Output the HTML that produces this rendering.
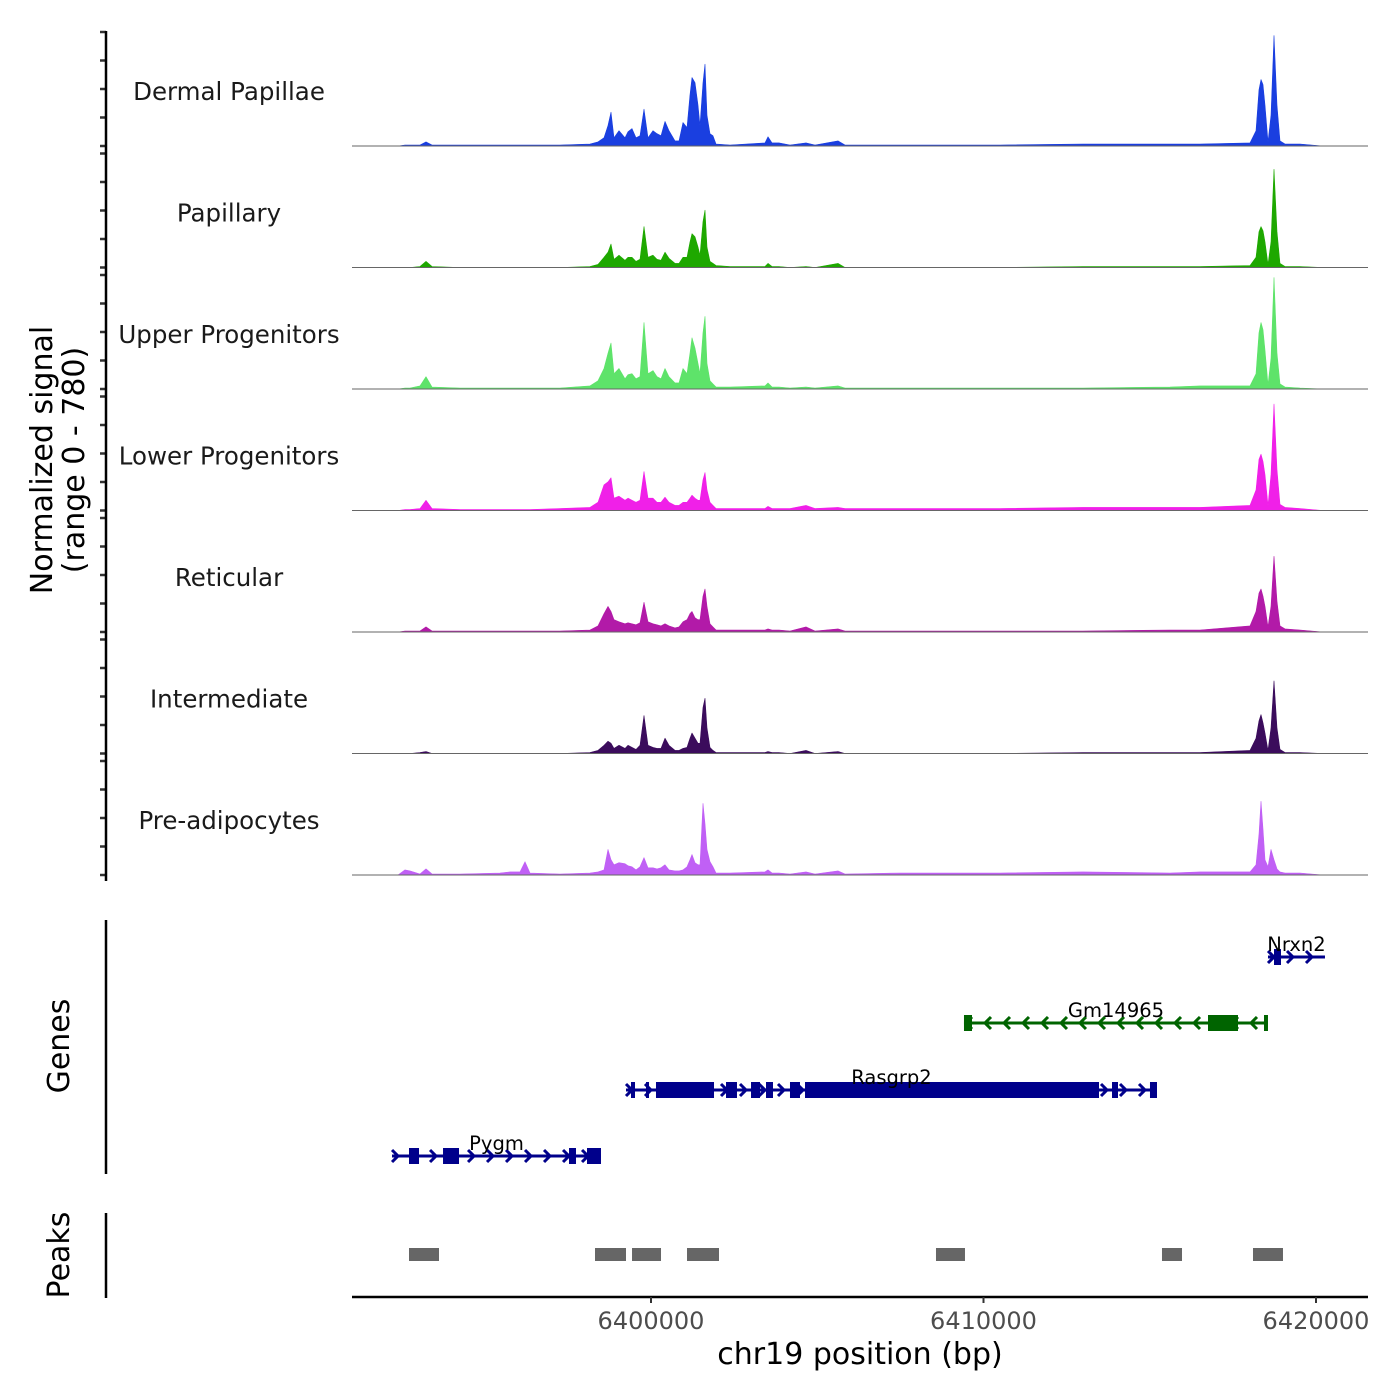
<!DOCTYPE html>
<html><head><meta charset="utf-8"><style>
html,body{margin:0;padding:0;background:#fff}
svg{display:block;font-family:"DejaVu Sans","Liberation Sans",sans-serif}
</style></head><body>
<svg id="chart" width="1400" height="1400" viewBox="0 0 1400 1400" xmlns="http://www.w3.org/2000/svg">
<rect width="1400" height="1400" fill="#fff"/>
<g id="tracks"></g>
<g id="genes"></g>
<g id="peaks"></g>
<g id="axes"></g>
<text transform="translate(52,460) rotate(-90)" text-anchor="middle" font-size="30" fill="#000">Normalized signal</text>
<text transform="translate(84,460) rotate(-90)" text-anchor="middle" font-size="30" fill="#000">(range 0 - 780)</text>
<text transform="translate(69,1046) rotate(-90)" text-anchor="middle" font-size="30" fill="#000">Genes</text>
<text transform="translate(69,1255) rotate(-90)" text-anchor="middle" font-size="30" fill="#000">Peaks</text>
<text x="860" y="1364" text-anchor="middle" font-size="30" fill="#000">chr19 position (bp)</text>
</svg>
<script>
const positions=[6392391,6392602,6392752,6393053,6393233,6393414,6394256,6395459,6395759,6396060,6396211,6396361,6397263,6398165,6398406,6398586,6398707,6398797,6398887,6399038,6399218,6399308,6399429,6399549,6399669,6399789,6399910,6400060,6400180,6400301,6400421,6400541,6400722,6400842,6400962,6401083,6401173,6401233,6401323,6401414,6401474,6401564,6401624,6401684,6401774,6401865,6401955,6402376,6403429,6403519,6403639,6403850,6404180,6404662,6404932,6405624,6405835,6407489,6410496,6412992,6415609,6416511,6418015,6418195,6418286,6418346,6418406,6418466,6418556,6418647,6418737,6418827,6418917,6419068,6419519,6420210];
const trackNames=["Dermal Papillae","Papillary","Upper Progenitors","Lower Progenitors","Reticular","Intermediate","Pre-adipocytes"];
const trackColors=["#1a3fe0","#1ea800","#5ee36a","#f020e8","#b21aa8","#3b0c5c","#c060f5"];
const dermalValues=[0,7,7,7,28,7,7,7,7,7,7,7,7,14,28,56,140,231,56,105,56,98,119,56,70,252,56,105,84,70,168,105,35,35,161,126,350,469,434,280,140,434,560,210,84,70,14,7,21,63,21,21,7,21,7,35,7,7,7,14,14,14,21,105,385,455,420,280,28,210,756,280,35,14,14,0];
const papillaryValues=[0,0,0,7,42,7,0,0,0,0,0,0,0,7,21,70,105,161,56,84,49,70,70,42,56,280,70,84,56,49,105,63,28,28,70,70,175,231,210,140,84,315,392,140,42,28,14,7,7,28,7,7,0,7,0,28,0,0,0,7,7,7,14,70,245,280,252,175,21,175,672,245,28,7,7,0];
const upperValues=[0,7,7,21,84,14,7,7,7,7,7,7,7,21,56,140,245,315,105,140,70,98,105,70,84,455,105,126,84,70,140,84,42,42,140,105,245,350,280,175,105,385,497,175,56,35,14,14,21,42,14,14,7,14,7,21,7,7,7,7,14,21,21,105,385,455,406,266,28,210,763,245,35,14,7,0];
const lowerValues=[0,7,7,14,70,14,7,7,7,7,7,7,14,21,56,175,196,224,84,98,70,84,70,56,70,266,84,84,56,56,91,56,35,35,56,56,84,105,84,70,70,210,259,140,56,35,14,14,14,28,14,14,14,35,14,21,14,14,14,21,21,21,35,140,350,385,336,245,35,245,728,280,42,21,14,0];
const reticularValues=[0,7,7,7,35,7,7,7,7,7,7,7,7,14,42,126,175,140,84,70,56,63,56,49,63,203,70,56,49,42,56,42,28,35,70,84,126,140,98,84,84,245,294,175,56,35,14,14,14,21,14,14,7,35,7,21,7,7,7,7,14,14,42,140,266,294,245,175,35,175,518,210,42,21,14,0];
const intermediateValues=[0,0,0,7,14,0,0,0,0,0,0,0,0,7,21,56,84,70,35,56,35,56,42,28,56,259,56,42,35,35,105,56,21,21,35,42,105,140,105,70,70,315,378,175,42,21,7,7,7,14,7,7,0,21,0,14,0,0,0,7,7,7,21,105,224,266,210,140,21,175,497,175,28,7,7,0];
const preadipoValues=[0,35,28,7,42,7,7,14,21,21,91,14,7,14,21,35,175,105,70,84,77,63,56,35,56,119,49,49,42,49,70,35,28,28,35,56,105,140,84,70,70,490,350,175,91,56,14,14,21,35,14,14,7,21,7,28,7,14,14,21,14,21,21,70,280,504,315,105,56,175,105,42,21,14,14,0];
const trackValues=[dermalValues,papillaryValues,upperValues,lowerValues,reticularValues,intermediateValues,preadipoValues];
const xTicks=[6400000,6410000,6420000];
const xTickLabels=["6400000","6410000","6420000"];
const yMax=780;
const geneNames=["Pygm","Rasgrp2","Gm14965","Nrxn2"];
const geneStarts=[6392211,6399248,6409413,6418556];
const geneEnds=[6398496,6415218,6418556,6420270];
const geneStrands=["+","+","-","+"];
const geneRows=[0,1,2,3];
const geneExons=[
 [[6392722,6393023],[6393745,6394226],[6397534,6397744],[6398075,6398496]],
 [[6399398,6399519],[6399850,6399940],[6400150,6401895],[6402256,6402586],[6403008,6403278],[6403459,6403669],[6404180,6404481],[6404632,6413474],[6413865,6414045],[6415007,6415218]],
 [[6409413,6409654],[6416752,6417654],[6418436,6418556]],
 [[6418737,6418947]]
];
const geneColors=["#00008b","#00008b","#006400","#00008b"];
const peakStarts=[6392722,6398316,6399429,6401083,6408571,6415368,6418105];
const peakEnds=[6393624,6399248,6400301,6402045,6409443,6415970,6419007];

const NS="http://www.w3.org/2000/svg";
function mk(tag,attrs,parent){const e=document.createElementNS(NS,tag);for(const k in attrs)e.setAttribute(k,attrs[k]);parent.appendChild(e);return e;}
function xScale(bp){return 651+(bp-6400000)*0.03325;}
const baseline0=146, trackStep=121.5, plotH=114;
function yScale(v,i){return baseline0+i*trackStep - v/yMax*plotH;}

const tg=document.getElementById('tracks');
const ax=document.getElementById('axes');
trackNames.forEach((name,i)=>{
  const b=baseline0+i*trackStep;
  const vals=trackValues[i];
  const n=Math.min(vals.length,positions.length);
  let d="M"+xScale(positions[0]).toFixed(1)+","+b;
  for(let j=0;j<n;j++)d+=" L"+xScale(positions[j]).toFixed(1)+","+yScale(vals[j],i).toFixed(1);
  d+=" L"+xScale(positions[n-1]).toFixed(1)+","+b+" Z";
  const p=mk('path',{d:d,fill:trackColors[i],stroke:trackColors[i],'stroke-width':0.6,'stroke-linejoin':'round'},tg);
  
  
  const bl=mk('line',{x1:352,x2:1368,y1:b,y2:b,stroke:'#666',"stroke-width":1},tg);
  
  
  const t=mk('text',{x:229,y:b-46,'text-anchor':'middle','font-size':24.5,fill:'#1a1a1a'},tg);
  t.textContent=name;
  
  
  for(let k=0;k<5;k++){
    const ty=b-k*28.5;
    const tk=mk('line',{x1:100,x2:106,y1:ty,y2:ty,stroke:'#333','stroke-width':2.5},ax);
    
    
  }
});
const ya=mk('line',{x1:106,x2:106,y1:31,y2:881,stroke:'#000','stroke-width':2.5},ax);


const ga=mk('line',{x1:106,x2:106,y1:920,y2:1174,stroke:'#000','stroke-width':2.5},ax);


const pa=mk('line',{x1:106,x2:106,y1:1213,y2:1298,stroke:'#000','stroke-width':2.5},ax);


const xa=mk('line',{x1:352,x2:1368,y1:1297,y2:1297,stroke:'#000','stroke-width':2.5},ax);


xTicks.forEach((v,i)=>{
  const x=xScale(v);
  const tk=mk('line',{x1:x,x2:x,y1:1297,y2:1303,stroke:'#333','stroke-width':2},ax);
  
  
  const t=mk('text',{x:x,y:1329,'text-anchor':'middle','font-size':24,fill:'#4d4d4d'},ax);
  t.textContent=xTickLabels[i];
  
  
});

const gg=document.getElementById('genes');
const rowY=[1156,1090,1023,957];
geneNames.forEach((name,i)=>{
  const y=rowY[geneRows[i]], c=geneColors[i];
  const x1=xScale(geneStarts[i]), x2=xScale(geneEnds[i]);
  const g=mk('g',{},gg);
  
  
  mk('line',{x1:x1,x2:x2,y1:y,y2:y,stroke:c,'stroke-width':3},g);
  const dir=geneStrands[i]==="+"?1:-1;
  for(let x=x1+4;x<=x2-2;x+=19){
    mk('polyline',{points:`${x-4*dir},${y-6} ${x+2*dir},${y} ${x-4*dir},${y+6}`,fill:'none',stroke:c,'stroke-width':3},g);
  }
  geneExons[i].forEach(ex=>{
    const a=xScale(ex[0]),b=xScale(ex[1]);
    mk('rect',{x:a,y:y-8,width:Math.max(b-a,3),height:16,fill:c},g);
  });
  const t=mk('text',{x:(x1+x2)/2,y:y-6,'text-anchor':'middle','font-size':19.5,fill:'#000'},g);
  t.textContent=name;
});
const pg=document.getElementById('peaks');
peakStarts.forEach((s,i)=>{
  const a=xScale(s),b=xScale(peakEnds[i]);
  const r=mk('rect',{x:a,y:1248,width:b-a,height:13,fill:'#666'},pg);
  
  
});
</script>
</body></html>
